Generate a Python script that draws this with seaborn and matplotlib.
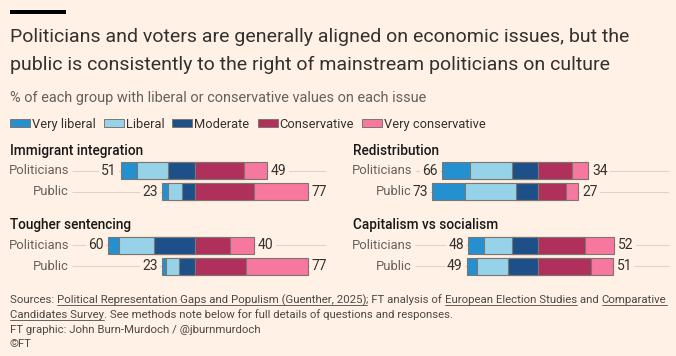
import numpy as np
import pandas as pd
import matplotlib
matplotlib.use('Agg')
import matplotlib.pyplot as plt
import seaborn as sns
from matplotlib.lines import Line2D
from matplotlib.patches import Rectangle

# data (% of each group)
issues = ['Immigrant integration', 'Tougher sentencing', 'Redistribution', 'Capitalism vs socialism']
groups = ['Politicians', 'Public']
levels = ['Very liberal', 'Liberal', 'Moderate', 'Conservative', 'Very conservative']

very_liberal = [[11, 4], [8, 3], [19, 23], [11, 7]]
liberal = [[21, 10], [24, 9], [29, 35], [19, 21]]
moderate = [[19, 9], [28, 11], [18, 15], [18, 21]]
conservative = [[33, 40], [24, 35], [23, 19], [32, 36]]
very_conservative = [[16, 37], [16, 42], [11, 8], [20, 15]]

colors = ['#2590d0', '#96d2e8', '#1d5089', '#b0305c', '#f7789e']
BG = '#fff1e5'
W, H = 676, 356

rows = []
for i, issue in enumerate(issues):
    for j, g in enumerate(groups):
        rows.append({'issue': issue, 'group': g,
                     'vl': very_liberal[i][j], 'l': liberal[i][j], 'm': moderate[i][j],
                     'c': conservative[i][j], 'vc': very_conservative[i][j]})
df = pd.DataFrame(rows)
df['left_total'] = df['vl'] + df['l'] + df['m']
df['right_total'] = df['c'] + df['vc']

sns.set_theme(style='white', rc={'figure.facecolor': BG, 'axes.facecolor': BG, 'savefig.facecolor': BG})
plt.rcParams['font.family'] = ['Roboto', 'DejaVu Sans']

fig = plt.figure(figsize=(W / 100, H / 100), dpi=100)
r = fig.canvas.get_renderer()


def fx(x):
    return x / W


def fy(y):
    return 1 - y / H


def text_w(s, **kw):
    t = fig.text(0, 0, '|' + s + '|', **kw)
    w1 = t.get_window_extent(r).width
    t.remove()
    t = fig.text(0, 0, '||', **kw)
    w2 = t.get_window_extent(r).width
    t.remove()
    return w1 - w2


def fit_size(s, target, **kw):
    return 10 * target / text_w(s, fontsize=10, **kw)


# top rule
fig.add_artist(Rectangle((fx(10), fy(14)), fx(56), 4 / H, color='black', lw=0))

# title / subtitle
title1 = 'Politicians and voters are generally aligned on economic issues, but the'
title2 = 'public is consistently to the right of mainstream politicians on culture'
ts = fit_size(title1, 617)
fig.text(fx(10), fy(42), title1, fontsize=ts, color='#33302e', va='baseline')
fig.text(fx(10), fy(70), title2, fontsize=ts, color='#33302e', va='baseline')
sub = '% of each group with liberal or conservative values on each issue'
fig.text(fx(10), fy(102), sub, fontsize=fit_size(sub, 418), color='#66605c', va='baseline')

# legend
ls = fit_size('Very conservative', 102)
x = 10
for lab, col in zip(levels, colors):
    fig.add_artist(Rectangle((fx(x), fy(127)), 20 / W, 8 / H, facecolor=col,
                             edgecolor='#7d7570', lw=0.7))
    fig.text(fx(x + 22), fy(128), lab, fontsize=ls, color='#33302e', va='baseline')
    x += 22 + text_w(lab, fontsize=ls) + 8

# panels
XL = (-127, 89.5)
panel_pos = {
    'Immigrant integration': (10, 160.2, 155),
    'Tougher sentencing': (10, 234.5, 229),
    'Redistribution': (353, 160.2, 155),
    'Capitalism vs socialism': (353, 234.5, 229),
}
edge = '#7d7570'
for issue in issues:
    px, ptop, hb = panel_pos[issue]
    ax = fig.add_axes([fx(px), fy(ptop + 42.2), 316 / W, 42.2 / H])
    sub_df = df[df['issue'] == issue].copy()
    layers = [
        (-(sub_df['vl'] + sub_df['l'] + sub_df['m']), colors[0]),
        (-(sub_df['l'] + sub_df['m']), colors[1]),
        (-sub_df['m'], colors[2]),
        (sub_df['c'] + sub_df['vc'], colors[4]),
        (sub_df['c'], colors[3]),
    ]
    ax.hlines([0, 1], -84.6, XL[1], color='#ddd3ca', lw=0.8, zorder=0)
    for k, (vals, col) in enumerate(layers):
        sub_df['v%d' % k] = vals.values
        sns.barplot(data=sub_df, x='v%d' % k, y='group', order=groups, orient='h',
                    color=col, saturation=1, width=0.81, errorbar=None,
                    edgecolor=edge, linewidth=0.8, ax=ax, zorder=2)
    for j, g in enumerate(groups):
        row = sub_df[sub_df['group'] == g].iloc[0]
        ax.text(-86.6, j, g, ha='right', va='center', fontsize=9.4, color='#66605c')
        ax.annotate(str(row['left_total']), xy=(-row['left_total'], j), xytext=(-3, 0),
                    textcoords='offset points', ha='right', va='center', fontsize=10,
                    color='#33302e', zorder=3,
                    bbox=dict(boxstyle='square,pad=0.15', fc=BG, ec='none'))
        ax.annotate(str(row['right_total']), xy=(row['right_total'], j), xytext=(3, 0),
                    textcoords='offset points', ha='left', va='center', fontsize=10,
                    color='#33302e', zorder=3,
                    bbox=dict(boxstyle='square,pad=0.15', fc=BG, ec='none'))
    ax.set_xlim(*XL)
    ax.set_ylim(1.5, -0.5)
    ax.axis('off')
    fig.text(fx(px), fy(hb), issue, fontsize=9.8, weight='medium', color='#1a1817', va='baseline')

# footer with underlined links
footer = [
    [('Sources: ', False), ('Political Representation Gaps and Populism (Guenther, 2025)', True),
     ('; FT analysis of ', False), ('European Election Studies', True), (' and ', False),
     ('Comparative', True)],
    [('Candidates Survey', True), ('. See methods note below for full details of questions and responses.', False)],
    [('FT graphic: John Burn-Murdoch / @jburnmurdoch', False)],
    [('\u00a9FT', False)],
]
fs = fit_size(''.join(p for p, _ in footer[0]), 656)
for li, parts in enumerate(footer):
    base = 303 + 14.8 * li
    x = 10
    for s, link in parts:
        w = text_w(s, fontsize=fs)
        fig.text(fx(x), fy(base), s, fontsize=fs, color='#4d4845', va='baseline')
        if link:
            fig.add_artist(Line2D([fx(x), fx(x + w)], [fy(base + 2.2)] * 2, color='#4d4845', lw=0.6))
        x += w

plt.savefig('out.png', dpi=100, facecolor=BG)
